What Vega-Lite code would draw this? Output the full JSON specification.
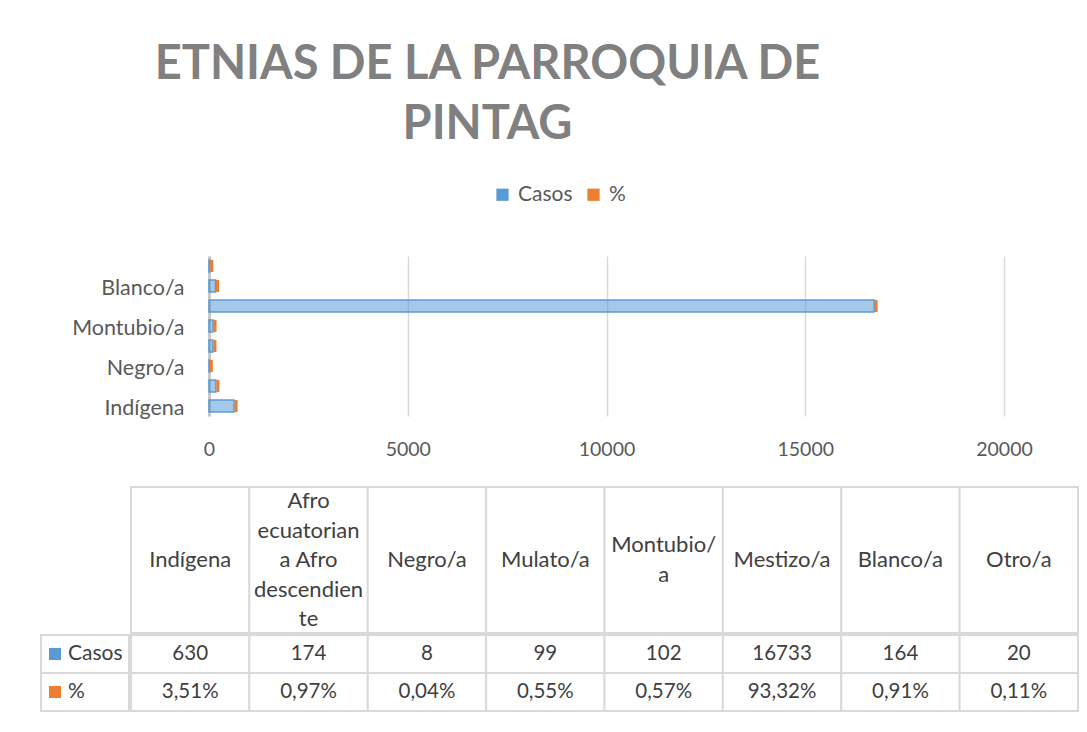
{
  "$schema": "https://vega.github.io/schema/vega-lite/v6.json",
  "background": "white",
  "padding": {"left": 40, "top": 41, "right": 10, "bottom": 10},
  "config": {
    "view": {"stroke": null},
    "font": "Lato",
    "locale": {"number": {"decimal": ",", "thousands": ".", "grouping": [3], "currency": ["$", ""]}}
  },
  "title": {
    "text": ["ETNIAS DE LA PARROQUIA DE", "PINTAG"],
    "font": "Lato",
    "fontSize": 47,
    "fontWeight": "bold",
    "color": "#808080",
    "lineHeight": 60,
    "anchor": "middle",
    "dx": -72,
    "offset": 35
  },
  "datasets": {
    "etnias": [
      {"Etnia": "Indígena", "Encabezado": "Indígena", "Casos": 630, "pct": 0.0351},
      {"Etnia": "Afro ecuatoriana Afro descendiente", "Encabezado": "Afro|ecuatorian|a Afro|descendien|te", "Casos": 174, "pct": 0.0097},
      {"Etnia": "Negro/a", "Encabezado": "Negro/a", "Casos": 8, "pct": 0.0004},
      {"Etnia": "Mulato/a", "Encabezado": "Mulato/a", "Casos": 99, "pct": 0.0055},
      {"Etnia": "Montubio/a", "Encabezado": "Montubio/|a", "Casos": 102, "pct": 0.0057},
      {"Etnia": "Mestizo/a", "Encabezado": "Mestizo/a", "Casos": 16733, "pct": 0.9332},
      {"Etnia": "Blanco/a", "Encabezado": "Blanco/a", "Casos": 164, "pct": 0.0091},
      {"Etnia": "Otro/a", "Encabezado": "Otro/a", "Casos": 20, "pct": 0.0011}
    ],
    "series": [
      {"serie": "Casos", "etiqueta": "Casos"},
      {"serie": "%", "etiqueta": "%"}
    ]
  },
  "spacing": 27,
  "vconcat": [
    {
      "width": 963,
      "height": 160,
      "data": {"name": "etnias"},
      "encoding": {
        "y": {
          "field": "Etnia",
          "type": "nominal",
          "scale": {
            "domain": ["Otro/a", "Blanco/a", "Mestizo/a", "Montubio/a", "Mulato/a", "Negro/a", "Afro ecuatoriana Afro descendiente", "Indígena"],
            "paddingInner": 0.4,
            "paddingOuter": 0.2
          },
          "axis": {
            "title": null,
            "values": ["Blanco/a", "Montubio/a", "Negro/a", "Indígena"],
            "offset": -168,
            "ticks": false,
            "domain": true,
            "domainColor": "#c8c8c8",
            "domainWidth": 3,
            "labelFontSize": 21.5,
            "labelColor": "#595959",
            "labelPadding": 25,
            "labelOffset": 3,
            "grid": false
          }
        }
      },
      "layer": [
        {
          "mark": {"type": "bar", "fillOpacity": 0.55, "stroke": "#5b9bd5", "strokeWidth": 1.5},
          "encoding": {
            "x": {
              "field": "Casos",
              "type": "quantitative",
              "scale": {"domain": [0, 20000], "nice": false, "range": [168, 963]},
              "axis": {
                "title": null,
                "values": [0, 5000, 10000, 15000, 20000],
                "format": "d",
                "domain": false,
                "ticks": false,
                "grid": true,
                "gridColor": "#d9d9d9",
                "gridWidth": 1.5,
                "labelFlush": false,
                "labelFontSize": 19.5,
                "labelColor": "#595959",
                "labelPadding": 24
              }
            },
            "color": {
              "datum": "Casos",
              "scale": {"domain": ["Casos", "%"], "range": ["#5b9bd5", "#ed7d31"]},
              "legend": {
                "title": null,
                "orient": "none",
                "legendX": 451,
                "legendY": -72,
                "direction": "horizontal",
                "symbolType": "square",
                "symbolSize": 150,
                "symbolStrokeWidth": 0,
                "labelFontSize": 21,
                "labelColor": "#595959",
                "labelOffset": 5,
                "columnPadding": 10
              }
            }
          }
        },
        {
          "mark": {"type": "tick", "thickness": 3, "size": 12, "xOffset": 2, "opacity": 1},
          "encoding": {
            "x": {"field": "Casos", "type": "quantitative"},
            "color": {"datum": "%"}
          }
        }
      ]
    },
    {
      "columns": 2,
      "spacing": 0,
      "concat": [
        {
          "width": 88,
          "height": 146,
          "data": {"values": []},
          "mark": "point"
        },
        {
          "width": 947,
          "height": 146,
          "data": {"name": "etnias"},
          "transform": [
            {"calculate": "length(split(datum.Encabezado, '|'))", "as": "lineas"}
          ],
          "encoding": {
            "x": {
              "field": "Etnia",
              "type": "nominal",
              "sort": null,
              "scale": {"paddingInner": 0, "paddingOuter": 0},
              "axis": null
            }
          },
          "layer": [
            {"mark": {"type": "rect", "fill": "white", "stroke": "#d9d9d9", "strokeWidth": 2}},
            {
              "mark": {"type": "text", "fontSize": 22, "color": "#404040", "lineBreak": "|", "lineHeight": 29.5, "baseline": "middle"},
              "encoding": {
                "y": {"field": "lineas", "type": "quantitative", "scale": {"domain": [1, 5], "range": [73, 14]}, "axis": null},
                "text": {"field": "Encabezado"}
              }
            }
          ]
        },
        {
          "width": 88,
          "height": 76,
          "data": {"name": "series"},
          "encoding": {
            "y": {
              "field": "serie",
              "type": "nominal",
              "sort": null,
              "scale": {"domain": ["Casos", "%"], "paddingInner": 0, "paddingOuter": 0},
              "axis": null
            }
          },
          "layer": [
            {"mark": {"type": "rect", "fill": "white", "stroke": "#d9d9d9", "strokeWidth": 2}},
            {
              "mark": {"type": "point", "shape": "square", "filled": true, "size": 144, "xOffset": -30, "opacity": 1},
              "encoding": {
                "color": {"field": "serie", "type": "nominal", "legend": null}
              }
            },
            {
              "mark": {"type": "text", "fontSize": 21, "color": "#404040", "align": "left", "dx": -17, "baseline": "middle"},
              "encoding": {"text": {"field": "etiqueta"}}
            }
          ]
        },
        {
          "width": 947,
          "height": 76,
          "data": {"name": "etnias"},
          "encoding": {
            "x": {
              "field": "Etnia",
              "type": "nominal",
              "sort": null,
              "scale": {"paddingInner": 0, "paddingOuter": 0},
              "axis": null
            }
          },
          "layer": [
            {
              "mark": {"type": "rect", "fill": "white", "stroke": "#d9d9d9", "strokeWidth": 2},
              "encoding": {"y": {"datum": "Casos", "type": "nominal", "scale": {"domain": ["Casos", "%"], "paddingInner": 0, "paddingOuter": 0}, "axis": null}}
            },
            {
              "mark": {"type": "rect", "fill": "white", "stroke": "#d9d9d9", "strokeWidth": 2},
              "encoding": {"y": {"datum": "%", "type": "nominal"}}
            },
            {
              "mark": {"type": "text", "fontSize": 20.5, "color": "#404040", "baseline": "middle"},
              "encoding": {"y": {"datum": "Casos", "type": "nominal"}, "text": {"field": "Casos", "type": "quantitative", "format": "d"}}
            },
            {
              "mark": {"type": "text", "fontSize": 20.5, "color": "#404040", "baseline": "middle"},
              "encoding": {"y": {"datum": "%", "type": "nominal"}, "text": {"field": "pct", "type": "quantitative", "format": ".2%"}}
            }
          ]
        }
      ]
    }
  ]
}
